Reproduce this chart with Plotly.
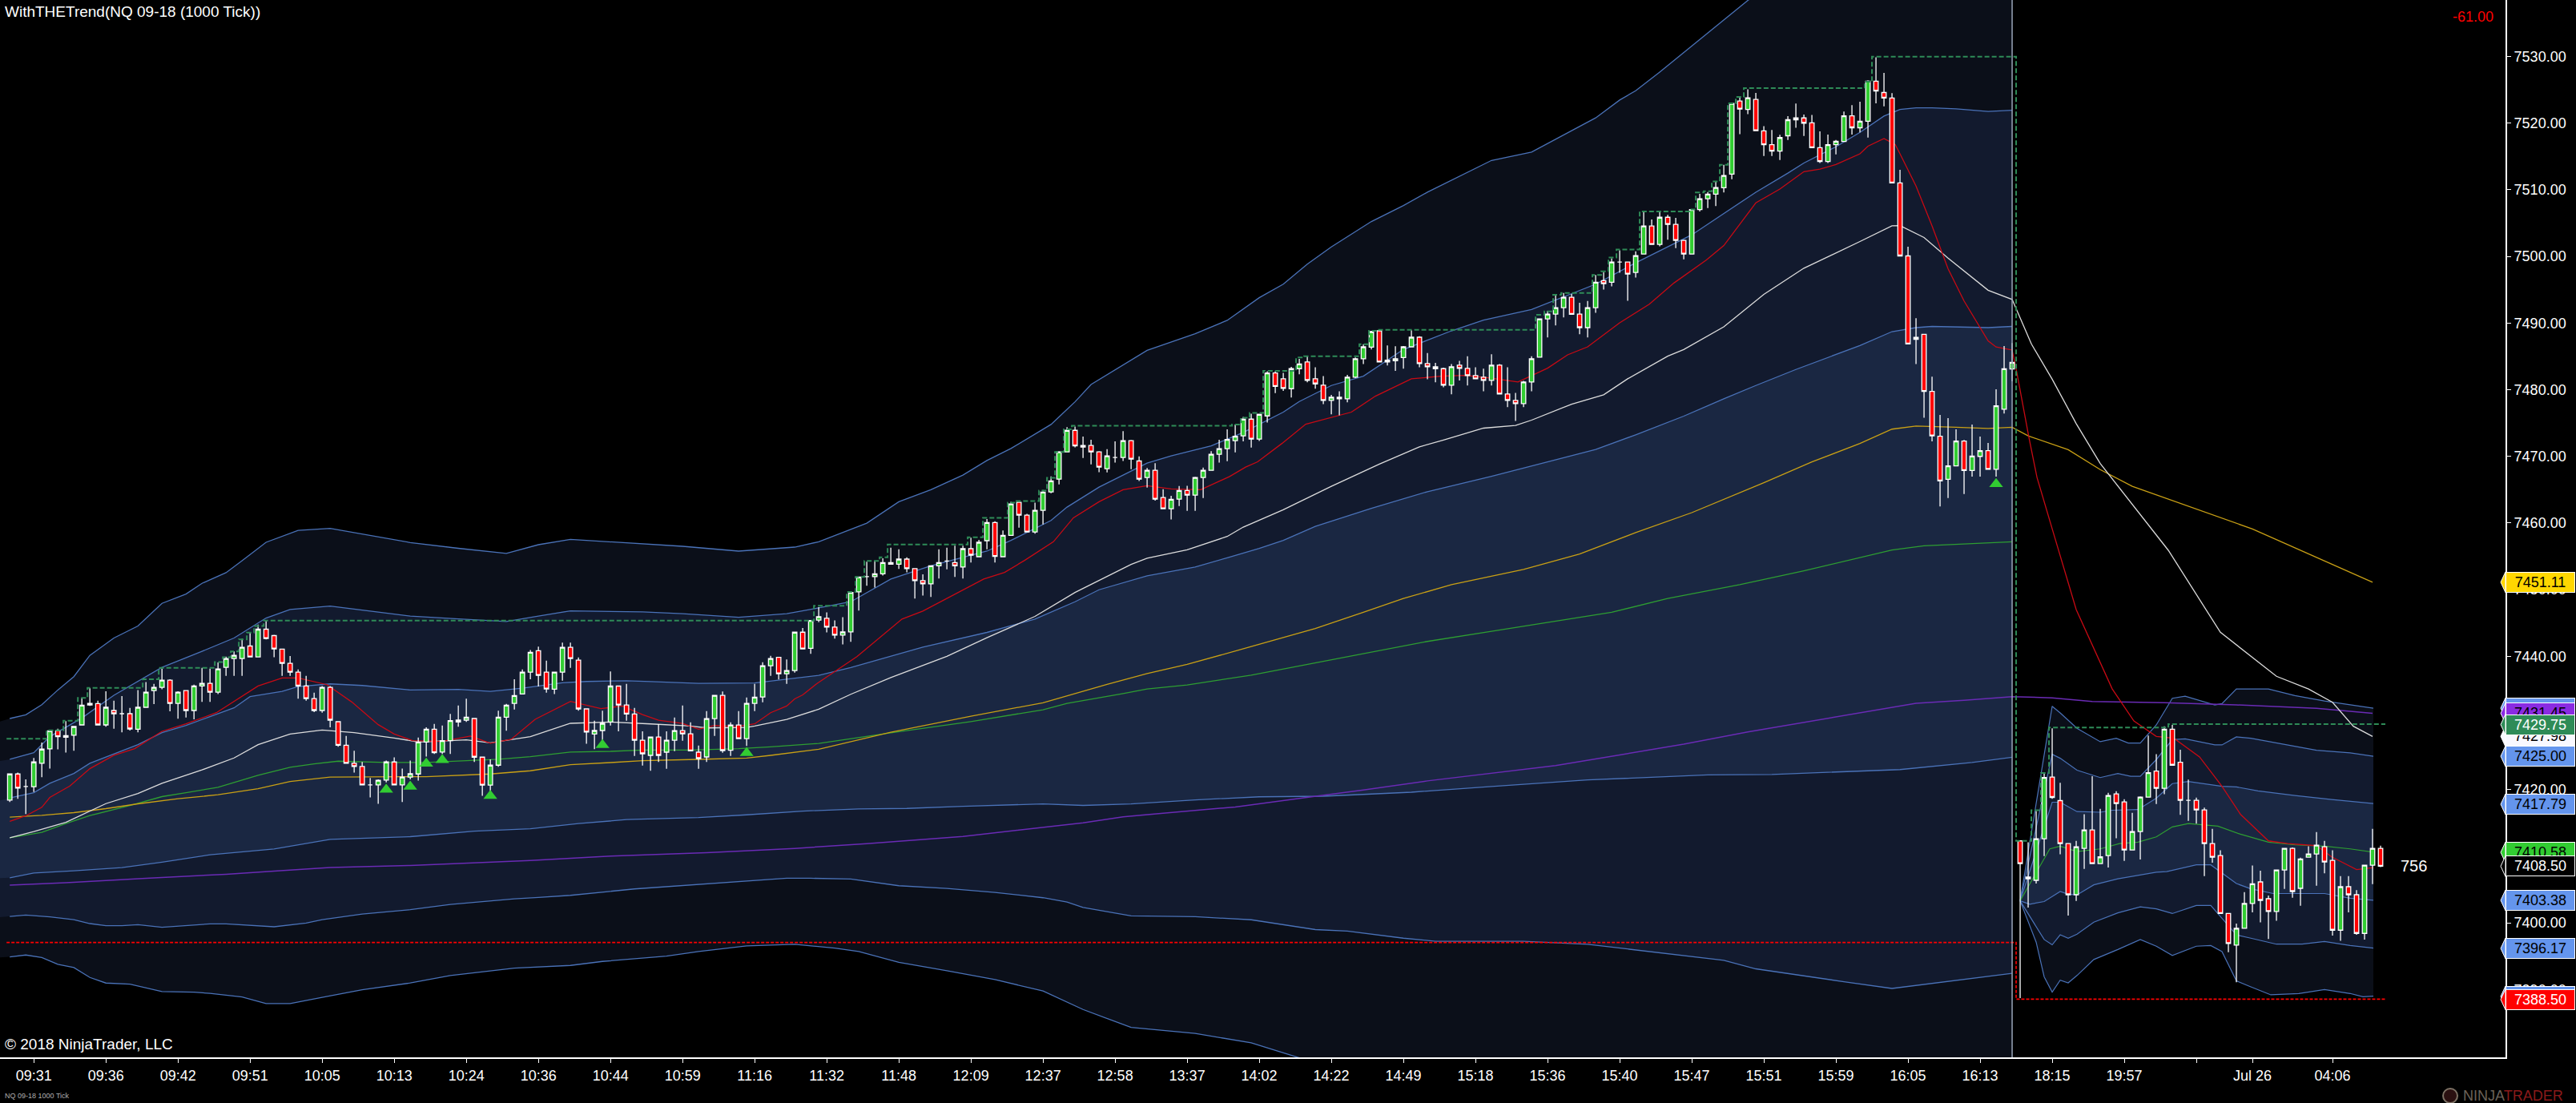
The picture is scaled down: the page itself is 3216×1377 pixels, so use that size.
import plotly.graph_objects as go

# candles, one value per 1000 tick bar
opens = [
    7418.42, 7422.34, 7420.46, 7420.42, 7423.94, 7426.10, 7428.82, 7427.86, 7428.14, 7429.70,
    7432.94, 7432.90, 7429.70, 7431.86, 7431.38, 7431.38, 7429.06, 7432.34, 7434.86, 7435.34,
    7436.42, 7432.94, 7434.86, 7431.86, 7435.54, 7435.94, 7434.62, 7438.34, 7439.66, 7439.66,
    7441.54, 7439.90, 7444.06, 7443.10, 7441.06, 7438.94, 7437.62, 7435.54, 7433.66, 7431.86,
    7435.34, 7430.18, 7426.66, 7423.94, 7423.46, 7420.70, 7420.70, 7421.42, 7424.14, 7420.70,
    7421.86, 7422.34, 7427.14, 7429.06, 7425.62, 7427.34, 7430.14, 7430.42, 7430.66, 7424.86,
    7420.66, 7423.66, 7430.86, 7432.94, 7434.34, 7437.62, 7440.82, 7437.62, 7435.06, 7437.62,
    7441.34, 7439.42, 7432.10, 7428.34, 7428.86, 7430.13, 7435.53, 7432.69, 7431.33, 7427.41,
    7425.13, 7427.89, 7425.61, 7427.41, 7428.85, 7428.37, 7425.61, 7424.89, 7430.65, 7434.13,
    7425.89, 7429.69, 7427.65, 7432.93, 7433.89, 7438.57, 7439.85, 7437.37, 7437.85, 7443.61,
    7441.18, 7445.42, 7445.70, 7444.38, 7443.18, 7443.66, 7449.66, 7451.94, 7451.94, 7452.38,
    7454.06, 7453.82, 7454.58, 7453.14, 7451.34, 7450.86, 7453.58, 7454.30, 7454.06, 7453.38,
    7456.14, 7454.94, 7457.34, 7460.06, 7454.94, 7458.14, 7463.10, 7461.18, 7458.66, 7461.90,
    7464.66, 7466.58, 7470.66, 7473.90, 7471.62, 7471.62, 7470.66, 7468.14, 7469.82, 7469.82,
    7472.34, 7469.30, 7466.82, 7467.90, 7463.82, 7462.14, 7463.58, 7464.86, 7464.18, 7466.82,
    7467.90, 7470.30, 7471.14, 7472.34, 7473.06, 7475.58, 7472.58, 7476.06, 7482.50, 7481.63,
    7480.15, 7483.15, 7484.15, 7481.63, 7480.67, 7478.39, 7478.87, 7478.63, 7481.87, 7484.63,
    7486.39, 7488.83, 7484.15, 7484.35, 7484.83, 7486.43, 7487.87, 7483.91, 7483.43, 7483.15,
    7480.67, 7483.67, 7483.19, 7482.11, 7481.87, 7481.39, 7483.67, 7479.35, 7478.39, 7477.91,
    7481.15, 7484.87, 7490.63, 7491.35, 7492.31, 7493.87, 7491.35, 7489.31, 7492.31, 7496.35,
    7496.11, 7499.15, 7499.15, 7497.59, 7500.35, 7504.55, 7501.79, 7505.87, 7504.79, 7502.39,
    7500.35, 7507.03, 7508.66, 7509.34, 7510.30, 7512.34, 7523.30, 7522.06, 7523.54, 7518.84,
    7516.77, 7515.80, 7518.10, 7520.50, 7520.77, 7520.04, 7516.31, 7514.24, 7516.77, 7517.23,
    7521.09, 7519.30, 7520.27, 7526.29, 7524.59, 7523.76, 7511.02, 7500.07, 7487.56, 7488.30,
    7479.74, 7473.02, 7466.54, 7468.56, 7472.29, 7467.87, 7469.99, 7470.86, 7468.06, 7477.07,
    7483.10, 7412.30, 7406.86, 7406.38, 7412.62, 7421.86, 7418.34, 7411.90, 7404.22, 7411.18,
    7413.94, 7408.90, 7410.10, 7419.34, 7418.14, 7410.94, 7413.70, 7418.86, 7422.78, 7420.18,
    7429.06, 7424.10, 7418.38, 7418.38, 7416.94, 7411.90, 7410.10, 7401.42, 7396.66, 7399.18,
    7402.90, 7406.14, 7403.62, 7401.70, 7407.94, 7411.18, 7405.18, 7409.86, 7410.34, 7411.42,
    7409.38, 7398.90, 7405.42, 7404.22, 7398.42, 7408.66, 7411.18,
]
closes = [
    7422.34, 7420.22, 7420.46, 7424.14, 7426.06, 7428.82, 7427.94, 7428.10, 7429.46, 7432.66,
    7432.70, 7429.70, 7432.34, 7431.38, 7431.38, 7429.10, 7432.34, 7434.62, 7435.34, 7436.42,
    7432.94, 7434.62, 7431.86, 7435.54, 7435.94, 7434.62, 7438.10, 7439.66, 7440.14, 7441.34,
    7439.90, 7444.06, 7442.66, 7441.10, 7438.94, 7437.62, 7435.54, 7433.66, 7431.86, 7435.34,
    7430.42, 7426.66, 7423.94, 7423.46, 7420.70, 7420.70, 7421.38, 7424.14, 7420.70, 7421.86,
    7422.38, 7427.14, 7429.06, 7425.54, 7427.34, 7430.34, 7430.42, 7430.86, 7424.86, 7420.66,
    7423.66, 7430.86, 7432.66, 7434.10, 7437.62, 7440.58, 7437.14, 7435.10, 7437.62, 7441.34,
    7439.66, 7432.10, 7428.62, 7428.86, 7429.94, 7435.53, 7432.69, 7431.33, 7427.41, 7425.37,
    7427.89, 7425.13, 7427.41, 7428.85, 7428.37, 7425.81, 7424.65, 7430.65, 7434.13, 7425.85,
    7429.69, 7427.65, 7432.93, 7433.85, 7438.57, 7439.65, 7437.37, 7437.85, 7443.61, 7441.09,
    7445.38, 7445.94, 7444.38, 7443.18, 7443.66, 7449.58, 7451.90, 7451.94, 7452.38, 7454.06,
    7453.82, 7454.58, 7453.14, 7451.34, 7450.86, 7453.58, 7454.06, 7454.30, 7453.58, 7456.14,
    7455.18, 7457.10, 7460.06, 7454.98, 7458.14, 7462.86, 7461.18, 7458.66, 7461.90, 7464.62,
    7466.30, 7470.66, 7473.90, 7471.58, 7471.38, 7470.66, 7468.38, 7470.06, 7469.82, 7472.34,
    7469.58, 7466.58, 7467.90, 7463.58, 7462.14, 7463.54, 7464.86, 7464.18, 7466.82, 7467.90,
    7470.30, 7471.14, 7472.54, 7473.02, 7475.58, 7472.58, 7476.30, 7482.50, 7480.50, 7480.19,
    7483.15, 7483.87, 7481.39, 7480.87, 7478.39, 7478.87, 7478.63, 7481.87, 7484.63, 7486.43,
    7488.71, 7484.15, 7484.43, 7484.63, 7486.43, 7487.87, 7483.91, 7483.43, 7483.15, 7480.67,
    7483.43, 7483.19, 7482.11, 7481.63, 7481.39, 7483.67, 7479.35, 7478.39, 7477.91, 7481.15,
    7484.63, 7490.63, 7491.35, 7492.31, 7493.87, 7491.31, 7489.31, 7492.31, 7496.11, 7495.91,
    7499.15, 7499.15, 7497.35, 7500.11, 7504.55, 7501.79, 7505.87, 7504.79, 7502.39, 7500.35,
    7507.03, 7508.66, 7509.34, 7510.34, 7512.14, 7522.94, 7522.10, 7523.78, 7518.86, 7516.77,
    7515.80, 7517.83, 7520.50, 7520.77, 7519.99, 7516.31, 7514.24, 7516.77, 7517.28, 7521.09,
    7519.30, 7520.27, 7526.29, 7524.82, 7523.76, 7511.02, 7500.07, 7486.87, 7487.84, 7479.74,
    7473.07, 7466.31, 7468.56, 7472.29, 7467.87, 7470.03, 7470.86, 7468.06, 7477.58, 7483.14,
    7484.11, 7408.90, 7406.62, 7412.62, 7421.82, 7418.82, 7411.90, 7404.22, 7411.42, 7413.94,
    7408.90, 7409.90, 7419.10, 7417.90, 7410.94, 7413.70, 7418.86, 7422.54, 7420.18, 7429.06,
    7423.66, 7418.38, 7418.38, 7416.94, 7411.90, 7409.86, 7401.42, 7396.90, 7399.18, 7402.90,
    7405.86, 7403.38, 7401.70, 7407.94, 7411.18, 7404.70, 7409.58, 7410.34, 7411.66, 7409.14,
    7398.90, 7405.42, 7404.22, 7398.42, 7408.66, 7411.18, 7408.50,
]
highs = [
    7422.42, 7422.54, 7421.54, 7424.74, 7427.06, 7428.90, 7429.14, 7430.26, 7429.54, 7433.74,
    7435.22, 7433.34, 7434.74, 7433.34, 7434.02, 7432.26, 7434.94, 7436.14, 7435.86, 7438.14,
    7436.54, 7434.74, 7434.94, 7435.74, 7438.26, 7438.14, 7439.06, 7439.94, 7440.74, 7442.62,
    7443.54, 7444.74, 7445.34, 7443.22, 7441.14, 7440.02, 7438.02, 7437.06, 7434.54, 7435.54,
    7435.54, 7430.18, 7428.06, 7425.82, 7424.14, 7421.74, 7421.54, 7424.34, 7424.82, 7423.14,
    7424.34, 7427.82, 7429.34, 7429.86, 7429.62, 7431.34, 7432.62, 7433.62, 7430.74, 7424.94,
    7424.54, 7431.82, 7432.86, 7436.54, 7438.02, 7440.94, 7441.46, 7439.34, 7437.62, 7442.06,
    7442.06, 7439.82, 7432.10, 7430.34, 7431.82, 7437.73, 7435.61, 7435.85, 7432.25, 7428.73,
    7427.93, 7429.81, 7428.73, 7430.81, 7432.61, 7430.09, 7426.61, 7431.77, 7434.13, 7434.73,
    7430.09, 7431.77, 7433.81, 7435.85, 7439.09, 7440.05, 7439.85, 7439.53, 7443.61, 7444.25,
    7445.38, 7447.38, 7446.58, 7445.38, 7445.86, 7449.66, 7451.90, 7454.18, 7454.38, 7454.70,
    7456.30, 7456.06, 7454.86, 7453.18, 7452.30, 7453.58, 7456.06, 7456.30, 7456.58, 7456.58,
    7457.78, 7457.46, 7460.58, 7460.26, 7458.86, 7463.18, 7463.18, 7461.38, 7463.06, 7464.94,
    7466.98, 7470.78, 7474.38, 7474.46, 7472.98, 7472.50, 7470.78, 7471.06, 7472.26, 7473.78,
    7472.46, 7469.98, 7468.26, 7468.98, 7465.06, 7464.06, 7465.54, 7465.58, 7466.94, 7468.30,
    7470.78, 7472.50, 7474.06, 7474.78, 7475.90, 7476.38, 7476.38, 7482.75, 7482.75, 7482.51,
    7483.43, 7484.63, 7485.03, 7483.35, 7482.03, 7479.23, 7479.75, 7482.23, 7484.83, 7486.83,
    7488.83, 7489.03, 7486.63, 7486.51, 7486.55, 7488.91, 7488.03, 7485.51, 7484.03, 7483.31,
    7483.83, 7484.31, 7485.03, 7483.35, 7483.15, 7485.31, 7483.83, 7483.35, 7479.51, 7481.31,
    7485.03, 7490.63, 7491.83, 7494.11, 7494.51, 7494.35, 7493.03, 7493.31, 7497.23, 7497.63,
    7499.71, 7500.91, 7499.15, 7500.75, 7506.63, 7505.55, 7506.63, 7506.23, 7505.79, 7502.51,
    7507.03, 7509.38, 7509.66, 7511.26, 7513.74, 7523.06, 7523.86, 7525.06, 7524.54, 7519.53,
    7518.98, 7518.24, 7521.05, 7522.93, 7521.28, 7521.23, 7518.75, 7518.29, 7517.46, 7521.74,
    7522.70, 7523.21, 7526.43, 7529.88, 7527.53, 7524.50, 7513.00, 7501.45, 7490.73, 7488.34,
    7481.95, 7476.20, 7475.74, 7474.04, 7472.47, 7474.77, 7472.98, 7472.01, 7480.06, 7486.55,
    7487.01, 7412.38, 7412.10, 7416.78, 7422.50, 7429.18, 7421.02, 7411.90, 7412.30, 7416.30,
    7422.02, 7417.10, 7419.50, 7419.74, 7418.54, 7416.50, 7418.98, 7428.10, 7425.30, 7429.50,
    7429.70, 7425.98, 7421.50, 7418.78, 7417.30, 7414.10, 7410.90, 7401.42, 7399.90, 7404.62,
    7408.62, 7407.82, 7404.10, 7407.94, 7411.18, 7411.30, 7409.78, 7411.50, 7413.62, 7412.30,
    7410.90, 7407.02, 7407.02, 7404.90, 7408.70, 7414.10, 7411.58,
]
lows = [
    7418.14, 7418.62, 7416.34, 7419.62, 7421.86, 7423.14, 7426.02, 7425.54, 7425.82, 7429.66,
    7432.54, 7429.66, 7429.42, 7429.14, 7428.58, 7428.86, 7428.58, 7432.26, 7432.82, 7435.06,
    7431.74, 7430.62, 7430.82, 7430.54, 7433.14, 7433.14, 7434.34, 7437.06, 7437.06, 7437.06,
    7439.86, 7439.86, 7442.54, 7439.86, 7437.06, 7437.06, 7433.62, 7433.34, 7431.62, 7431.54,
    7429.34, 7426.42, 7423.86, 7422.54, 7420.62, 7418.82, 7417.86, 7421.06, 7420.62, 7418.14,
    7421.54, 7421.34, 7424.94, 7425.34, 7425.34, 7425.34, 7429.42, 7430.14, 7424.14, 7419.06,
    7419.46, 7423.42, 7428.82, 7432.02, 7434.34, 7436.54, 7435.46, 7434.54, 7434.34, 7436.34,
    7438.26, 7431.82, 7426.86, 7426.06, 7426.74, 7429.61, 7428.73, 7430.33, 7425.05, 7423.61,
    7422.81, 7424.13, 7423.13, 7425.77, 7427.33, 7425.73, 7423.13, 7424.13, 7428.05, 7425.53,
    7425.05, 7427.65, 7426.53, 7431.77, 7433.09, 7437.05, 7436.53, 7435.85, 7437.53, 7441.05,
    7440.38, 7445.10, 7443.58, 7442.66, 7441.78, 7442.18, 7446.86, 7450.58, 7450.30, 7452.10,
    7453.78, 7453.10, 7452.58, 7448.66, 7449.10, 7448.90, 7451.66, 7453.06, 7451.90, 7451.66,
    7454.06, 7454.90, 7456.06, 7454.06, 7454.90, 7458.06, 7459.30, 7458.66, 7458.38, 7459.78,
    7464.46, 7465.78, 7470.62, 7471.34, 7469.74, 7468.78, 7467.62, 7467.58, 7469.06, 7469.30,
    7468.06, 7466.30, 7465.30, 7463.34, 7462.14, 7460.54, 7462.54, 7461.82, 7461.82, 7463.74,
    7467.86, 7469.06, 7469.26, 7470.58, 7472.26, 7471.30, 7472.30, 7475.06, 7479.50, 7479.83,
    7478.83, 7482.31, 7481.11, 7480.15, 7477.83, 7476.31, 7476.15, 7478.11, 7481.75, 7483.83,
    7486.03, 7484.11, 7483.63, 7482.83, 7483.15, 7486.35, 7483.35, 7481.55, 7481.11, 7480.35,
    7479.31, 7481.39, 7480.63, 7481.63, 7479.75, 7480.63, 7479.31, 7477.39, 7475.31, 7477.39,
    7479.75, 7484.83, 7487.83, 7489.63, 7490.83, 7491.31, 7488.31, 7487.83, 7491.55, 7495.03,
    7495.51, 7497.55, 7493.35, 7496.83, 7500.35, 7501.75, 7501.51, 7502.51, 7501.23, 7499.55,
    7500.31, 7506.75, 7507.26, 7507.54, 7509.58, 7511.58, 7518.34, 7521.34, 7518.82, 7515.07,
    7515.07, 7514.47, 7517.46, 7519.30, 7518.06, 7516.26, 7514.01, 7514.01, 7515.30, 7517.23,
    7518.29, 7518.61, 7517.83, 7522.98, 7522.52, 7510.97, 7500.03, 7486.82, 7483.83, 7475.78,
    7472.24, 7462.49, 7463.73, 7468.52, 7464.33, 7466.95, 7466.95, 7468.01, 7466.95, 7476.43,
    7481.26, 7388.70, 7402.30, 7405.90, 7410.02, 7418.62, 7410.30, 7401.10, 7403.30, 7408.10,
    7408.90, 7408.90, 7408.30, 7412.70, 7409.30, 7410.94, 7409.50, 7418.78, 7417.82, 7419.30,
    7423.58, 7416.22, 7415.30, 7414.90, 7407.02, 7409.02, 7401.38, 7395.58, 7391.10, 7399.10,
    7401.58, 7400.06, 7397.58, 7400.30, 7405.10, 7403.78, 7402.58, 7409.82, 7405.58, 7407.42,
    7398.10, 7397.30, 7401.58, 7398.22, 7397.50, 7405.82, 7408.38,
]
bars = list(range(len(opens)))

# day session bands (first point sits just left of the visible bars)
up3_x = [-2, 0, 2, 4, 6, 8, 10, 13, 16, 19, 22, 24, 27, 29, 32, 36, 40, 50, 56, 62, 66, 70, 79, 84, 91, 98, 101, 104, 107, 111,
         115, 119, 122, 125, 130, 133, 135, 142, 148, 152, 156, 159, 162, 165, 170, 174, 177, 185, 190, 198, 201, 203, 206, 217,
         225, 235, 240, 250]
up3_y = [7429.9, 7430.66, 7431.22, 7432.74, 7434.94, 7436.94, 7440.14, 7442.74, 7444.54, 7447.94, 7449.34, 7450.94, 7452.54,
         7454.34, 7457.1, 7458.9, 7459.2, 7457.06, 7456.2, 7455.44, 7456.74, 7457.54, 7456.9, 7456.5, 7455.78, 7456.38, 7457.18,
         7458.58, 7459.98, 7463.18, 7464.98, 7467.18, 7469.38, 7471.18, 7474.78, 7478.18, 7480.78, 7485.9, 7488.4, 7490.4, 7493.8,
         7495.83, 7498.83, 7501.43, 7505.23, 7507.63, 7509.63, 7514.4, 7515.66, 7520.78, 7523.46, 7524.86, 7527.66, 7538.4,
         7545.5, 7554.3, 7555.1, 7554.35]
up2_x = [-2, 0, 3, 5, 9, 13, 19, 24, 28, 32, 35, 40, 44, 50, 56, 62, 66, 70, 79, 84, 91, 97, 101, 105, 110, 115, 122, 125, 130, 132,
         136, 142, 145, 150, 154, 159, 161, 165, 169, 174, 180, 184, 190, 198, 203, 210, 213, 218, 222, 224, 228, 231, 234, 236,
         238, 240, 243, 247, 250]
up2_y = [7424.14, 7424.54, 7425.54, 7427.94, 7430.74, 7434.14, 7438.34, 7440.74, 7442.74, 7445.74, 7447.02, 7447.54, 7446.94,
         7446.02, 7445.62, 7445.22, 7446.02, 7446.82, 7446.66, 7446.38, 7445.86, 7446.38, 7447.26, 7448.18, 7451.58, 7453.58,
         7455.78, 7457.38, 7460.38, 7462.38, 7465.38, 7468.98, 7470.06, 7471.58, 7473.58, 7476.63, 7478.23, 7480.63, 7482.03,
         7486.03, 7488.83, 7490.43, 7492.03, 7495.83, 7499.03, 7503.23, 7505.63, 7509.63, 7512.49, 7514.01, 7516.45, 7518.61,
         7521.05, 7522.06, 7522.29, 7522.29, 7522.15, 7521.74, 7521.92]
up1_x = [-2, 0, 3, 5, 8, 10, 13, 16, 19, 22, 25, 28, 30, 34, 36, 40, 44, 50, 56, 60, 64, 69, 72, 77, 80, 86, 93, 98, 101, 105, 110,
         114, 122, 128, 133, 136, 142, 148, 152, 156, 159, 163, 170, 177, 185, 191, 198, 203, 209, 214, 218, 223, 231, 235, 238,
         240, 247, 250]
up1_y = [7418.14, 7418.74, 7419.54, 7420.94, 7422.42, 7423.94, 7425.34, 7426.74, 7428.54, 7429.62, 7430.94, 7432.26, 7433.94,
         7434.74, 7435.46, 7435.86, 7435.62, 7434.94, 7435.02, 7434.74, 7435.22, 7436.02, 7436.22, 7436.33, 7436.21, 7435.93,
         7436.0, 7436.65, 7437.13, 7438.3, 7439.98, 7441.38, 7443.58, 7445.58, 7448.18, 7449.98, 7452.06, 7453.38, 7454.78,
         7456.18, 7457.38, 7459.5, 7462.2, 7464.7, 7467.0, 7468.83, 7471.03, 7473.23, 7476.03, 7478.63, 7480.63, 7483.03,
         7486.63, 7488.71, 7489.31, 7489.49, 7489.31, 7489.49]
mid_x = [0, 4, 7, 10, 15, 19, 22, 26, 31, 35, 38, 41, 47, 52, 57, 61, 65, 70, 75, 79, 85, 91, 95, 101, 110, 120, 129, 132, 139, 142,
         147, 155, 164, 167, 177, 185, 191, 200, 207, 216, 224, 228, 235, 239, 250]
mid_y = [7412.77, 7413.57, 7414.89, 7416.09, 7417.6, 7418.94, 7419.54, 7420.34, 7422.14, 7423.34, 7423.86, 7424.26, 7424.06,
         7424.06, 7424.34, 7424.54, 7424.94, 7425.62, 7425.73, 7425.93, 7425.93, 7426.13, 7426.41, 7426.93, 7428.5, 7430.2,
         7431.97, 7432.94, 7434.41, 7435.1, 7435.7, 7437.17, 7439.24, 7439.93, 7442.23, 7443.75, 7444.9, 7446.6, 7448.67, 7450.74,
         7452.81, 7453.96, 7455.94, 7456.58, 7457.18]
low1_x = [-2, 0, 3, 8, 14, 19, 25, 33, 40, 50, 58, 65, 71, 77, 86, 92, 99, 106, 112, 119, 129, 134, 140, 148, 156, 164, 175, 185,
          197, 212, 220, 236, 245, 250]
low1_y = [7406.69, 7406.77, 7407.49, 7407.81, 7408.29, 7409.09, 7410.21, 7411.09, 7412.53, 7412.93, 7413.77, 7414.13, 7414.89,
          7415.49, 7415.81, 7416.21, 7416.77, 7417.09, 7417.17, 7417.49, 7417.85, 7417.62, 7417.85, 7418.45, 7418.91, 7419.0,
          7419.6, 7420.47, 7421.44, 7422.2, 7422.27, 7423.0, 7424.06, 7424.84]
low2_x = [-2, 0, 2, 5, 8, 10, 12, 14, 16, 19, 21, 25, 27, 30, 33, 37, 39, 44, 50, 55, 63, 66, 70, 78, 86, 92, 97, 100, 105, 111, 117,
          123, 129, 132, 134, 140, 148, 155, 163, 167, 174, 178, 189, 197, 206, 214, 218, 224, 229, 235, 241, 250]
low2_y = [7400.77, 7400.97, 7401.17, 7400.89, 7400.49, 7399.89, 7399.57, 7399.57, 7399.73, 7399.33, 7399.49, 7399.85, 7399.85,
          7399.65, 7399.41, 7399.97, 7400.49, 7401.33, 7401.97, 7402.77, 7403.61, 7403.81, 7404.13, 7405.09, 7405.73, 7406.29,
          7406.69, 7406.69, 7406.57, 7405.57, 7405.17, 7404.57, 7403.77, 7403.13, 7402.3, 7401.06, 7400.92, 7400.46, 7398.99,
          7398.76, 7397.7, 7397.24, 7397.24, 7396.78, 7395.54, 7394.39, 7393.1, 7392.0, 7391.17, 7390.16, 7391.04, 7392.42]
low3_x = [-2, 0, 2, 4, 6, 8, 10, 12, 15, 19, 23, 25, 29, 32, 35, 39, 44, 50, 55, 63, 68, 70, 74, 82, 86, 92, 98, 103, 106, 111, 117,
          123, 129, 134, 140, 148, 155, 163, 178, 197, 214, 235, 250]
low3_y = [7394.77, 7394.89, 7395.17, 7394.81, 7393.77, 7393.29, 7391.81, 7390.97, 7390.81, 7389.69, 7389.61, 7389.41, 7388.89,
          7387.89, 7387.89, 7388.81, 7389.97, 7390.97, 7392.09, 7393.21, 7393.49, 7393.61, 7394.21, 7395.01, 7395.69, 7396.53,
          7396.77, 7396.21, 7395.69, 7394.09, 7392.81, 7391.49, 7389.77, 7387.0, 7384.3, 7383.4, 7382.0, 7379.0, 7374.7, 7372.1,
          7366.6, 7357.3, 7360.0]

# night session bands, they all fan out of the first bar
n_up3_x = [251, 255, 256, 258.1, 261, 263, 264.5, 266, 268, 270, 271.6, 275.3, 276.2, 278, 282, 285.3, 289, 292.2, 295.1]
n_up3_y = [7403.3, 7432.5, 7431.5, 7429.18, 7427.18, 7427.7, 7426.98, 7426.98, 7429.7, 7433.7, 7434.0, 7432.7, 7432.9, 7435.1,
           7435.1, 7434.1, 7433.3, 7432.7, 7432.2]
n_up2_x = [251, 255, 256, 258.1, 261, 263.2, 264.8, 266, 268, 270, 271.6, 275.3, 276.2, 278, 279.8, 283.5, 288, 292.2, 295.1]
n_up2_y = [7403.3, 7425.3, 7424.7, 7422.9, 7421.8, 7422.4, 7422.0, 7422.0, 7424.5, 7427.5, 7427.6, 7426.7, 7426.7, 7427.9, 7427.7,
           7426.9, 7425.9, 7425.5, 7425.0]
n_up1_x = [251, 255, 256, 258.1, 261, 262.5, 265.7, 268, 270, 272, 276.2, 278, 280.7, 285.3, 289.9, 295.1]
n_up1_y = [7403.3, 7418.1, 7418.1, 7416.7, 7416.6, 7416.9, 7417.0, 7418.7, 7420.9, 7421.2, 7420.5, 7420.4, 7419.8, 7419.1, 7418.5,
           7417.9]
n_mid_x = [251, 254.7, 256, 258.1, 261, 263.4, 265.7, 268, 270, 272, 275.7, 278.5, 282, 285.3, 289, 292.2, 295.1]
n_mid_y = [7403.3, 7411.1, 7411.5, 7410.7, 7411.1, 7411.9, 7412.1, 7412.9, 7414.4, 7414.9, 7414.5, 7413.3, 7412.1, 7411.7, 7411.5,
           7411.1, 7410.6]
n_low1_x = [251, 252.2, 254, 256, 257, 258.1, 260.2, 263.2, 268, 269.3, 273, 274.8, 278, 279.8, 282.6, 289, 292.2, 295.1]
n_low1_y = [7403.3, 7402.8, 7403.2, 7404.7, 7404.3, 7404.2, 7405.7, 7406.6, 7407.6, 7407.7, 7408.7, 7408.7, 7405.9, 7405.1, 7404.4,
            7404.4, 7403.7, 7403.4]
n_low2_x = [251, 254, 255, 256, 257, 258.1, 260.2, 263.2, 266, 268, 270, 273, 274.8, 278, 279.8, 283, 286.2, 289, 292.2, 295.1]
n_low2_y = [7403.3, 7397.5, 7396.7, 7398.2, 7397.7, 7398.3, 7400.1, 7401.5, 7402.4, 7402.1, 7401.4, 7402.6, 7402.6, 7398.2, 7397.7,
            7396.8, 7396.8, 7397.2, 7396.6, 7396.2]
n_low3_x = [251, 253, 254, 255, 256, 257, 258.1, 260.2, 263.2, 266, 268, 270, 273, 274.8, 276.2, 278, 279.8, 282.3, 285.8, 289,
            292.2, 293.8, 295.1]
n_low3_y = [7403.3, 7397.1, 7391.9, 7389.6, 7391.4, 7391.0, 7392.1, 7394.5, 7396.0, 7397.5, 7396.5, 7395.1, 7396.5, 7396.6, 7395.7,
            7391.3, 7390.4, 7389.2, 7389.4, 7390.0, 7389.4, 7388.9, 7389.0]

# moving averages and the long vwap
red_x = [0, 2, 4, 5, 7.5, 10, 13, 15.6, 19, 22, 25.8, 29, 31, 34, 36, 39.6, 42.7, 46, 48, 50.3, 54, 57.5, 60, 62.6, 65.6, 70, 73.8,
         76.5, 79, 81, 84, 86, 88, 90.8, 93, 95, 97, 98, 99, 100.8, 105.8, 111.4, 114, 121.6, 124.2, 126.7, 130.3, 132.8, 136, 139,
         142, 145, 148.7, 152.3, 154.3, 155.8, 158.8, 161.8, 165, 167.5, 170.5, 175, 178.7, 181.7, 184.8, 188.3, 192, 194.5, 197,
         201, 204.7, 207.8, 211.8, 214, 218, 221, 224, 226, 228, 231, 232, 234, 235.4, 236, 238, 240, 242, 244, 247, 248, 250, 250.6,
         252.1, 253.1, 255, 258, 262.5, 265.2, 268, 270.2, 273.4, 276.2, 278.5, 282, 284.4, 288, 289.9, 293, 295.1]
red_y = [7415.22, 7416.06, 7417.34, 7418.82, 7420.54, 7423.14, 7425.14, 7426.14, 7428.74, 7429.86, 7431.54, 7433.94, 7435.54,
         7436.74, 7436.74, 7435.74, 7433.14, 7429.74, 7428.34, 7427.34, 7427.22, 7428.02, 7426.94, 7427.54, 7430.54, 7433.22,
         7432.14, 7432.53, 7431.25, 7430.41, 7429.93, 7429.05, 7429.61, 7429.45, 7429.85, 7431.53, 7432.53, 7433.61, 7434.21,
         7435.93, 7439.98, 7445.58, 7446.78, 7451.58, 7452.58, 7454.38, 7457.18, 7460.78, 7463.18, 7464.98, 7465.58, 7465.1,
         7464.98, 7466.98, 7468.38, 7469.18, 7471.9, 7474.83, 7475.83, 7476.63, 7479.03, 7481.63, 7482.03, 7482.15, 7481.75,
         7481.15, 7483.23, 7485.23, 7486.43, 7490.03, 7492.83, 7496.03, 7499.43, 7501.63, 7508.03, 7510.1, 7512.72, 7513.09,
         7513.78, 7515.39, 7516.54, 7517.69, 7516.77, 7515.39, 7510.56, 7504.58, 7498.14, 7493.31, 7487.33, 7486.41, 7485.95,
         7482.5, 7472.8, 7466.86, 7459.13, 7447.0, 7435.1, 7430.3, 7427.98, 7427.7, 7424.9, 7420.5, 7416.3, 7412.3, 7411.9,
         7411.58, 7409.9, 7408.0, 7408.3]
white_x = [0, 3, 7, 12, 16, 19, 24, 28, 31, 35, 39, 43, 48, 51, 55, 57, 60, 65, 70, 75, 80, 85, 87, 92, 93, 97, 101, 105, 110, 117,
           122, 128, 133, 140, 142, 147, 152, 154, 159, 165, 171, 176, 179, 184, 188, 190, 195, 199, 202, 207, 209, 214, 219, 224,
           231, 235, 236, 239, 242, 247, 250, 252.4, 255, 258, 261, 269.5, 276, 283, 287, 290, 292.6, 295]
white_y = [7412.77, 7413.7, 7415.09, 7417.89, 7419.4, 7420.94, 7422.94, 7424.74, 7426.74, 7428.34, 7428.94, 7428.54, 7427.74,
           7427.14, 7427.34, 7427.46, 7427.02, 7427.94, 7429.94, 7430.13, 7429.85, 7429.53, 7429.25, 7429.33, 7429.53, 7430.53,
           7432.05, 7434.3, 7436.8, 7439.98, 7442.78, 7445.98, 7449.58, 7453.78, 7454.7, 7455.98, 7457.98, 7459.38, 7461.98, 7465.5,
           7468.83, 7471.43, 7472.43, 7474.23, 7474.63, 7475.43, 7477.83, 7479.23, 7481.63, 7485.03, 7486.03, 7489.43, 7494.3,
           7498.23, 7502.23, 7504.6, 7504.63, 7502.83, 7499.75, 7494.92, 7493.54, 7486.87, 7481.58, 7474.91, 7468.93, 7455.9,
           7443.6, 7437.0, 7435.1, 7433.1, 7429.5, 7427.98]
yellow_x = [0, 4, 8, 12, 16, 21, 26, 31, 35, 40, 52, 60, 65, 70, 75, 79, 86, 92, 95, 101, 110, 120, 129, 132, 137, 142, 147, 155, 163,
            169, 174, 180, 189, 196, 203, 210, 219, 225, 231, 235, 238, 243, 247, 250, 252, 257, 261, 265, 280, 295]
yellow_y = [7415.86, 7416.14, 7416.54, 7417.14, 7417.86, 7418.62, 7419.22, 7420.14, 7421.22, 7421.86, 7421.94, 7422.34, 7422.82,
            7423.74, 7424.05, 7424.33, 7424.53, 7424.73, 7425.13, 7426.05, 7428.6, 7431.0, 7433.03, 7434.09, 7435.79, 7437.4,
            7438.78, 7441.45, 7444.16, 7446.6, 7448.67, 7450.74, 7453.04, 7455.34, 7458.56, 7461.55, 7466.03, 7469.16, 7471.92,
            7474.08, 7474.55, 7474.36, 7474.18, 7474.36, 7473.07, 7471.0, 7468.01, 7465.5, 7459.1, 7451.11]
purple_x = [0, 7, 17, 27, 33, 40, 50, 65, 75, 87, 98, 107, 119, 129, 134, 139, 153, 161, 169, 177, 185, 193, 201, 209, 217, 225, 233,
            238, 244, 250, 255, 260, 269, 278, 288, 295]
purple_y = [7405.65, 7406.01, 7406.69, 7407.29, 7407.77, 7408.29, 7408.61, 7409.37, 7410.01, 7410.53, 7411.17, 7411.89, 7412.97,
            7414.29, 7415.0, 7415.92, 7417.39, 7418.68, 7419.92, 7421.3, 7422.45, 7423.6, 7425.2, 7426.82, 7428.66, 7430.27,
            7431.88, 7432.94, 7433.4, 7433.95, 7433.77, 7433.22, 7433.02, 7432.7, 7432.2, 7431.45]

# swing high / low dashed steps
swing_hi_x = [-0.4, 4.6, 6.7, 8.5, 9.7, 16.6, 18.6, 25.6, 26.6, 27.6, 28.6, 29.6, 30.5, 31.7, 100.4, 104.5, 105.6, 106.7, 108.6,
              109.6, 119.6, 121.5, 124.6, 125.7, 128.5, 129.5, 130.5, 131.6, 132.6, 152.6, 153.7, 154.8, 156.5, 160.6, 161.6, 168.5,
              169.7, 170.8, 190.5, 191.6, 192.7, 193.7, 197.6, 198.7, 199.6, 200.6, 203.5, 209.8, 210.5, 211.5, 212.5, 213.5, 214.5,
              215.5, 216.5, 231.6, 232.5, 250.5, 252.4, 253.6, 254.6, 269.5, 296.6]
swing_hi_y = [7427.62, 7428.9, 7430.34, 7433.74, 7435.26, 7436.54, 7438.26, 7439.14, 7439.86, 7440.74, 7442.54, 7443.54, 7444.54,
              7445.34, 7447.58, 7449.66, 7451.9, 7454.3, 7454.86, 7456.78, 7457.86, 7460.78, 7463.06, 7463.3, 7464.86, 7466.78,
              7470.66, 7474.06, 7474.58, 7474.78, 7475.78, 7476.5, 7482.83, 7484.83, 7485.03, 7486.83, 7488.83, 7488.99, 7491.23,
              7491.75, 7494.23, 7494.51, 7497.23, 7497.75, 7499.83, 7501.03, 7506.75, 7507.03, 7509.58, 7509.78, 7511.26, 7513.74,
              7522.98, 7523.94, 7525.26, 7526.2, 7529.97, 7412.3, 7416.9, 7422.5, 7429.3, 7429.82, 7429.82]
swing_lo_x = [-0.4, 250.5, 296.6]
swing_lo_y = [7397.05, 7388.55, 7388.55]

# green reversal triangles
signal_x = [47, 50, 52, 54, 60, 74, 92, 248]
signal_y = [7420.0, 7420.45, 7423.9, 7424.45, 7419.05, 7426.7, 7425.5, 7465.85]

# axis labels
y_ticks = [7390, 7400, 7410, 7420, 7430, 7440, 7450, 7460, 7470, 7480, 7490, 7500, 7510, 7520, 7530]
x_ticks = [3, 12, 21, 30, 39, 48, 57, 66, 75, 84, 93, 102, 111, 120, 129, 138, 147, 156, 165, 174, 183, 192, 201, 210, 219, 228, 237,
           246, 255, 264, 273, 280, 290]
x_labels = ["09:31", "09:36", "09:42", "09:51", "10:05", "10:13", "10:24", "10:36", "10:44", "10:59", "11:16", "11:32", "11:48",
            "12:09", "12:37", "12:58", "13:37", "14:02", "14:22", "14:49", "15:18", "15:36", "15:40", "15:47", "15:51", "15:59",
            "16:05", "16:13", "18:15", "19:57", "", "Jul 26", "04:06"]

# price tags on the right, drawn in this order
tag_prices = [7388.96, 7432.21, 7431.45, 7427.98, 7425.00, 7429.75, 7417.79, 7410.58, 7408.50, 7403.38, 7396.17, 7388.50, 7451.11]
tag_fills = ["#6495ED", "#6495ED", "#8A2BE2", "#F8F8FF", "#6495ED", "#2E8B57", "#6495ED", "#32CD32", "#000000", "#6495ED", "#6495ED",
             "#FF0000", "#FFD700"]
tag_fonts = ["black", "black", "black", "black", "black", "white", "black", "black", "white", "black", "black", "white", "black"]

Y_MIN = 7379.82
Y_MAX = 7538.47
X_MIN = -1.22
X_MAX = 311.6
PLOT_W = 3128
PLOT_H = 1320
PX_PER_PT = 8.32

BLUE = "#4a72b8"
FONT = "Liberation Sans"


def band_fill(up_x, up_y, low_x, low_y, color):
    return go.Scatter(x=up_x + low_x[::-1], y=up_y + low_y[::-1], mode="lines", fill="toself", fillcolor=color,
                      line=dict(width=0), hoverinfo="skip")


def plain_line(xs, ys, color, width=1.3):
    return go.Scatter(x=xs, y=ys, mode="lines", line=dict(color=color, width=width), hoverinfo="skip")


fig = go.Figure()

# outer to inner so the lighter zones stack on top
fig.add_trace(band_fill(up3_x, up3_y, low3_x, low3_y, "#0b0f19"))
fig.add_trace(band_fill(up2_x, up2_y, low2_x, low2_y, "#121a2e"))
fig.add_trace(band_fill(up1_x, up1_y, low1_x, low1_y, "#1a2742"))
fig.add_trace(band_fill(n_up3_x, n_up3_y, n_low3_x, n_low3_y, "#0b0f19"))
fig.add_trace(band_fill(n_up2_x, n_up2_y, n_low2_x, n_low2_y, "#121a2e"))
fig.add_trace(band_fill(n_up1_x, n_up1_y, n_low1_x, n_low1_y, "#1a2742"))

for xs, ys in [(up3_x, up3_y), (up2_x, up2_y), (up1_x, up1_y), (low1_x, low1_y), (low2_x, low2_y), (low3_x, low3_y)]:
    fig.add_trace(plain_line(xs[1:], ys[1:], BLUE))
for xs, ys in [(n_up3_x, n_up3_y), (n_up2_x, n_up2_y), (n_up1_x, n_up1_y), (n_low1_x, n_low1_y), (n_low2_x, n_low2_y),
               (n_low3_x, n_low3_y)]:
    fig.add_trace(plain_line(xs, ys, BLUE, 1.2))

fig.add_trace(plain_line(mid_x, mid_y, "#2e9e32"))
fig.add_trace(plain_line(n_mid_x, n_mid_y, "#2e9e32", 1.2))
fig.add_trace(plain_line(purple_x, purple_y, "#6a2bb5", 1.5))
fig.add_trace(plain_line(yellow_x, yellow_y, "#c9a015"))
fig.add_trace(plain_line(white_x, white_y, "#dcdcdc"))
fig.add_trace(plain_line(red_x, red_y, "#c80a14"))

# candles sit on overlay axes so they stay above the lines
fig.add_trace(go.Candlestick(
    x=bars, open=opens, high=highs, low=lows, close=closes,
    xaxis="x2", yaxis="y2",
    increasing=dict(fillcolor="#32CD32", line=dict(color="white", width=1.3)),
    decreasing=dict(fillcolor="#FF0000", line=dict(color="white", width=1.3)),
    hoverinfo="skip",
))
fig.add_trace(go.Scatter(x=swing_hi_x, y=swing_hi_y, mode="lines", xaxis="x2", yaxis="y2", hoverinfo="skip",
                         line=dict(color="#2E8B57", width=2, dash="6px,3px", shape="hv")))
fig.add_trace(go.Scatter(x=swing_lo_x, y=swing_lo_y, mode="lines", xaxis="x2", yaxis="y2", hoverinfo="skip",
                         line=dict(color="#FF0000", width=1.6, dash="4px,2px", shape="hv")))
fig.add_trace(go.Scatter(x=signal_x, y=signal_y, mode="markers", xaxis="x2", yaxis="y2", hoverinfo="skip",
                         marker=dict(symbol="triangle-up", size=15, color="#32CD32")))

axis_common = dict(showgrid=False, zeroline=False, fixedrange=True)
fig.update_layout(
    width=3216, height=1377,
    margin=dict(l=0, r=3216 - PLOT_W, t=0, b=1377 - PLOT_H),
    paper_bgcolor="black", plot_bgcolor="black",
    showlegend=False,
    boxgap=0.45, boxgroupgap=0,
    xaxis=dict(range=[X_MIN, X_MAX], tickmode="array", tickvals=x_ticks, ticktext=x_labels, ticks="outside", ticklen=5,
               tickcolor="white", tickwidth=1, showline=True, linecolor="white", linewidth=2,
               tickfont=dict(family=FONT, size=18, color="white"), rangeslider=dict(visible=False), **axis_common),
    yaxis=dict(range=[Y_MIN, Y_MAX], side="right", tickmode="array", tickvals=y_ticks,
               ticktext=[f"{t:.2f}" for t in y_ticks], ticks="outside", ticklen=5, tickcolor="white", tickwidth=1,
               showline=True, linecolor="white", linewidth=2, tickfont=dict(family=FONT, size=18, color="white"), **axis_common),
    xaxis2=dict(range=[X_MIN, X_MAX], overlaying="x", visible=False, rangeslider=dict(visible=False), **axis_common),
    yaxis2=dict(range=[Y_MIN, Y_MAX], overlaying="y", side="right", visible=False, **axis_common),
)

# session break
fig.add_shape(type="line", xref="x", yref="paper", x0=250, x1=250, y0=0, y1=1, line=dict(color="#9aa5b8", width=1.5), layer="above")

# little points on the left side of the price tags
half_tag = 13 / PX_PER_PT
for price, fill in zip(tag_prices, tag_fills):
    fig.add_shape(type="path", xref="paper", yref="y", layer="above", line=dict(color="white", width=1), fillcolor=fill,
                  path=f"M {3122 / PLOT_W} {price} L 1 {price + half_tag} L 1 {price - half_tag} Z")
for price, fill, font_color in zip(tag_prices, tag_fills, tag_fonts):
    fig.add_annotation(xref="paper", yref="y", x=1, y=price, xanchor="left", yanchor="middle", showarrow=False,
                       text=f"{price:.2f}", width=85, height=24, bgcolor=fill, bordercolor="white", borderwidth=1, borderpad=0,
                       font=dict(family=FONT, size=18, color=font_color))


def px_note(text, x, y, size, color, anchor="left"):
    fig.add_annotation(xref="paper", yref="paper", x=x / PLOT_W, y=(PLOT_H - y) / PLOT_H, text=text, showarrow=False,
                       xanchor=anchor, yanchor="middle", font=dict(family=FONT, size=size, color=color))


px_note("WithTHETrend(NQ 09-18 (1000 Tick))", 4, 15, 19, "white")
px_note("-61.00", 3115, 21, 18, "#FF0000", "right")
px_note("© 2018 NinjaTrader, LLC", 4, 1303, 19, "white")
px_note("NQ 09-18 1000 Tick", 4, 1368, 9, "#b0b0b0")
px_note("756", 2995, 1081, 20, "white")
px_note("NINJA<span style='color:#8b1a1a'>TRADER</span>", 3073, 1368, 18, "#6b6258")

# logo mark
fig.add_shape(type="circle", xref="paper", yref="paper", x0=3050 / PLOT_W, x1=3068 / PLOT_W,
              y0=(PLOT_H - 1377) / PLOT_H, y1=(PLOT_H - 1359) / PLOT_H, line=dict(color="#7d7264", width=2), fillcolor="#2a1010")

fig.write_html("out.html", config=dict(displayModeBar=False),
               post_script="document.body.style.margin='0';document.body.style.background='black';")
